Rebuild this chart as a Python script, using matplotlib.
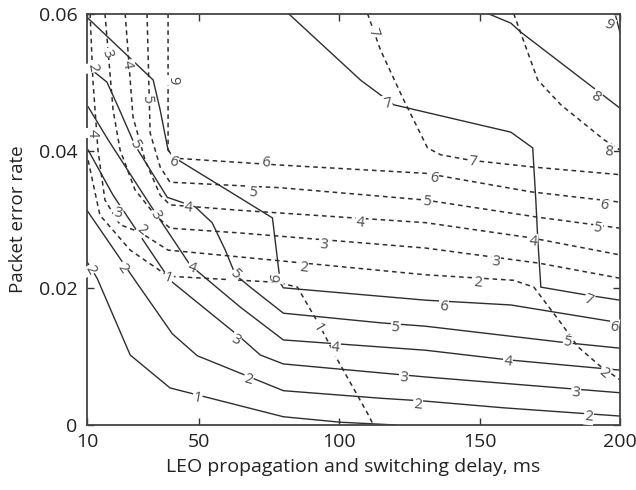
import matplotlib
matplotlib.use("Agg")
import matplotlib.pyplot as plt

plt.rcParams['font.family'] = ['Open Sans', 'DejaVu Sans']

# ---- solid contour family (x = delay ms, y = packet error rate) ----
s1_x = [10, 13.6, 25.4, 39.6, 80, 100.4, 120]
s1_y = [0.0238, 0.0214, 0.0102, 0.0054, 0.0012, 0.0004, 0.0]
s2_x = [10, 27.1, 40.4, 49.3, 80, 114.6, 130, 158.6, 200]
s2_y = [0.0313, 0.0211, 0.0133, 0.0101, 0.0050, 0.0039, 0.0035, 0.0025, 0.0013]
s3_x = [10.4, 19.3, 39.6, 64.6, 71.8, 80, 114.6, 130.7, 200]
s3_y = [0.0401, 0.0335, 0.0211, 0.0128, 0.0102, 0.0089, 0.0076, 0.0070, 0.0047]
s4_x = [10.4, 17.5, 32.5, 46.8, 64.6, 80, 130.7, 160, 200]
s4_y = [0.0464, 0.0416, 0.0321, 0.0233, 0.0172, 0.0124, 0.0109, 0.0095, 0.0080]
s5_x = [10.4, 17.1, 21.1, 27.1, 38.6, 48.6, 54.6, 59.3, 62.9, 68.2, 80, 114.6, 130.7, 180.7, 200]
s5_y = [0.0522, 0.0500, 0.0464, 0.0408, 0.0332, 0.0318, 0.0295, 0.0255, 0.0219, 0.0201,
        0.0163, 0.0149, 0.0144, 0.0120, 0.0112]
s6_x = [10.4, 33.6, 36.1, 38.9, 40.7, 64.6, 76.1, 77.5, 78.9, 80, 130.7, 161.1, 200]
s6_y = [0.0593, 0.0503, 0.0459, 0.0401, 0.0391, 0.0331, 0.0302, 0.0255, 0.0207, 0.0200,
        0.0182, 0.0175, 0.0149]
s7_x = [81.8, 107.5, 119.3, 161.1, 168.9, 169.3, 170, 170.7, 171.8, 188.9, 200]
s7_y = [0.06, 0.0503, 0.0467, 0.0427, 0.0404, 0.0376, 0.0328, 0.0270, 0.0201, 0.0189, 0.0182]
s8_x = [152.9, 161.1, 164.6, 200]
s8_y = [0.06, 0.0586, 0.0573, 0.0462]
s9_x = [198.5, 200]
s9_y = [0.0596, 0.0572]

# ---- dashed contour family ----
d1_x = [10.4, 14.6, 25.4, 38.9, 77.9, 85, 93.2, 99.3, 110, 112.1]
d1_y = [0.0386, 0.0306, 0.0255, 0.0217, 0.0208, 0.0201, 0.0143, 0.0095, 0.0017, 0.0]
d2_x = [11.1, 12.1, 13.9, 16.4, 21.8, 28.9, 38.9, 64.6, 130.7, 162.1, 169.3, 178.9, 185, 193.2, 200]
d2_y = [0.06, 0.0503, 0.0401, 0.0328, 0.0292, 0.0281, 0.0255, 0.0245, 0.0219, 0.0211,
        0.0201, 0.0149, 0.0114, 0.0085, 0.0066]
d3_x = [16.4, 19.3, 21.8, 27.1, 34.3, 39.6, 64.6, 130.7, 171.1, 200]
d3_y = [0.06, 0.0459, 0.0401, 0.0343, 0.0306, 0.0287, 0.0280, 0.0258, 0.0236, 0.0214]
d4_x = [23.6, 26.4, 30.7, 36.1, 39.6, 64.6, 130.7, 168.2, 200]
d4_y = [0.06, 0.0449, 0.0386, 0.0335, 0.0321, 0.0313, 0.0295, 0.0273, 0.0248]
d5_x = [31.4, 32.5, 36.1, 39.6, 78.9, 130.7, 170.7, 200]
d5_y = [0.06, 0.0426, 0.0376, 0.0354, 0.0346, 0.0328, 0.0303, 0.0287]
d6_x = [38.9, 38.9, 41.4, 78.9, 130.7, 168.2, 200]
d6_y = [0.06, 0.0401, 0.0389, 0.0379, 0.0367, 0.0340, 0.0325]
d7_x = [110, 114.6, 122.9, 131.4, 136.1, 146.8, 169.3, 200]
d7_y = [0.06, 0.0547, 0.0474, 0.0404, 0.0394, 0.0386, 0.0376, 0.0365]
d8_x = [162.1, 170.7, 178.9, 194.3, 200]
d8_y = [0.06, 0.0503, 0.0467, 0.0416, 0.0401]

# ---- contour labels: (text, x, y, rotation) ----
solid_labels = [
    ("1", 49.3, 0.0039, -10), ("2", 11.1, 0.0226, -60),
    ("2", 22.5, 0.0229, -55), ("2", 67.5, 0.0066, -15), ("2", 127.9, 0.0029, -5), ("2", 188.9, 0.0012, -5),
    ("3", 21.1, 0.0309, -10), ("3", 62.9, 0.0124, -30), ("3", 122.9, 0.0069, -5), ("3", 184.3, 0.0047, -5),
    ("4", 11.8, 0.0426, -90), ("4", 47.5, 0.0229, -20), ("4", 98.6, 0.0112, -5), ("4", 160.0, 0.0092, -5),
    ("5", 27.1, 0.0408, -60), ("5", 62.9, 0.0219, -45), ("5", 120.0, 0.0141, -5), ("5", 181.4, 0.0120, -10),
    ("6", 40.7, 0.0383, -20), ("6", 77.5, 0.0214, 80), ("6", 137.1, 0.0172, -5), ("6", 197.9, 0.0143, -10),
    ("7", 117.1, 0.0469, 10), ("7", 188.9, 0.0182, -20),
    ("8", 191.4, 0.0478, -30), ("9", 196.1, 0.0583, -30),
]
dashed_labels = [
    ("1", 38.9, 0.0214, -20), ("1", 92.1, 0.0141, -60),
    ("2", 12.1, 0.0521, -80), ("2", 29.6, 0.0284, -40), ("2", 87.1, 0.0229, -5), ("2", 149.3, 0.0207, -5),
    ("2", 194.3, 0.0076, -40),
    ("3", 17.1, 0.0542, -70), ("3", 34.3, 0.0306, -60), ("3", 94.3, 0.0262, -5), ("3", 155.7, 0.0238, -5),
    ("4", 24.3, 0.0525, -80), ("4", 46.1, 0.0316, -5), ("4", 107.5, 0.0295, -5), ("4", 168.9, 0.0267, -5),
    ("5", 31.4, 0.0474, -85), ("5", 69.3, 0.0338, -5), ("5", 131.4, 0.0325, -5), ("5", 192.1, 0.0287, -10),
    ("9", 40.4, 0.0503, -90), ("6", 73.6, 0.0382, -5), ("6", 133.6, 0.0360, -10), ("6", 194.3, 0.0321, -10),
    ("7", 112.1, 0.0572, -70), ("7", 147.5, 0.0383, -5),
    ("8", 196.1, 0.0398, -5),
]

x_ticks = [10, 50, 100, 150, 200]
y_ticks = [0, 0.02, 0.04, 0.06]
y_tick_labels = ["0", "0.02", "0.04", "0.06"]

fig = plt.figure(figsize=(6.36, 4.9), dpi=100)
ax = fig.add_axes([0.1368, 0.1327, 0.8380, 0.8397])

line_col = "#2e2e2e"
solids = [(s1_x, s1_y), (s2_x, s2_y), (s3_x, s3_y), (s4_x, s4_y), (s5_x, s5_y),
          (s6_x, s6_y), (s7_x, s7_y), (s8_x, s8_y), (s9_x, s9_y)]
dashes = [(d1_x, d1_y), (d2_x, d2_y), (d3_x, d3_y), (d4_x, d4_y), (d5_x, d5_y),
          (d6_x, d6_y), (d7_x, d7_y), (d8_x, d8_y)]
for xs, ys in solids:
    ax.plot(xs, ys, color=line_col, lw=1.0, solid_joinstyle='miter')
for xs, ys in dashes:
    ax.plot(xs, ys, color=line_col, lw=1.1, dashes=(3, 2.5))

for t, x, y, r in solid_labels + dashed_labels:
    ax.text(x, y, t, fontsize=10.5, color="#4a4a4a", rotation=r, ha='center', va='center',
            bbox=dict(boxstyle='square,pad=0.05', fc='white', ec='none'))

ax.set_xlim(10, 200)
ax.set_ylim(0, 0.06)
ax.set_xticks(x_ticks)
ax.set_yticks(y_ticks)
ax.set_yticklabels(y_tick_labels)
ax.tick_params(direction='in', length=5, width=1, top=True, right=True, labelsize=14,
               color="#333333", labelcolor="#222222")
ax.tick_params(axis='x', pad=6)
ax.tick_params(axis='y', pad=7)
for sp in ax.spines.values():
    sp.set_color("#444444")
    sp.set_linewidth(1.3)
ax.set_xlabel("LEO propagation and switching delay, ms", fontsize=14, color="#222222", labelpad=5)
ax.set_ylabel("Packet error rate", fontsize=13.5, color="#222222", labelpad=8)

fig.savefig("out.png", dpi=100)
